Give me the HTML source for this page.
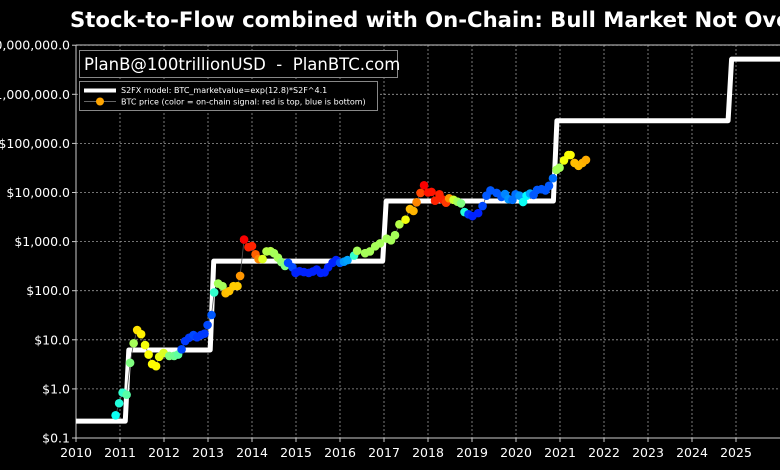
<!DOCTYPE html>
<html><head><meta charset="utf-8"><style>
html,body{margin:0;padding:0;background:#000;width:780px;height:470px;overflow:hidden}
svg{display:block;font-family:"DejaVu Sans","Liberation Sans",sans-serif}
</style></head><body>
<svg id="chart" width="780" height="470" viewBox="0 0 780 470">
<rect x="0" y="0" width="780" height="470" fill="#000"/>
<text x="70" y="27" fill="#fff" font-size="21.2" font-weight="bold">Stock-to-Flow combined with On-Chain: Bull Market Not Over</text>
<defs><clipPath id="plotclip"><rect x="76" y="45" width="704" height="393"/></clipPath></defs>
<g id="grid"></g>
<g id="axes"></g>
<g clip-path="url(#plotclip)">
<g id="model"></g>
<g id="dots"></g>
</g>
<g>
<rect x="79.5" y="50.5" width="318" height="27" fill="#000" stroke="#888" stroke-width="1"/>
<text x="84" y="70" fill="#fff" font-size="16.5" style="white-space:pre">PlanB@100trillionUSD&#160;&#160;-&#160;&#160;PlanBTC.com</text>
<rect x="79.5" y="81.5" width="298" height="29" fill="#000" stroke="#888" stroke-width="1"/>
<line x1="84" y1="90.5" x2="116" y2="90.5" stroke="#fff" stroke-width="4"/>
<text x="121" y="93" fill="#fff" font-size="8">S2FX model: BTC_marketvalue=exp(12.8)*S2F^4.1</text>
<line x1="84" y1="101.5" x2="116" y2="101.5" stroke="#666" stroke-width="1"/>
<circle cx="100" cy="101.5" r="4" fill="#ffa500"/>
<text x="121" y="104.5" fill="#fff" font-size="8">BTC price (color = on-chain signal: red is top, blue is bottom)</text>
</g>
</svg>
<script>
const yearTicks=[2010,2011,2012,2013,2014,2015,2016,2017,2018,2019,2020,2021,2022,2023,2024,2025];
const priceTicks=[0.1,1,10,100,1000,10000,100000,1000000,10000000];
const priceTickLabels=["$0.1","$1.0","$10.0","$100.0","$1,000.0","$10,000.0","$100,000.0","$1,000,000.0","$10,000,000.0"];
const modelStarts=[2010,2011.2,2013.13,2017.05,2020.93,2024.9];
const modelLevels=[0.22,6.2,400,6700,290000,5200000];
const priceYears=[2010.90,2010.98,2011.06,2011.15,2011.23,2011.31,2011.39,2011.48,2011.57,2011.65,2011.73,2011.82,2011.89,2011.99,2012.12,2012.23,2012.32,2012.40,2012.48,2012.57,2012.67,2012.75,2012.84,2012.92,2012.99,2013.08,2013.14,2013.23,2013.33,2013.40,2013.48,2013.58,2013.67,2013.73,2013.82,2013.92,2014.0,2014.08,2014.15,2014.24,2014.33,2014.42,2014.5,2014.59,2014.67,2014.75,2014.82,2014.92,2014.99,2015.08,2015.18,2015.29,2015.38,2015.47,2015.56,2015.65,2015.73,2015.83,2015.91,2016.0,2016.09,2016.17,2016.32,2016.39,2016.57,2016.68,2016.80,2016.91,2017.06,2017.16,2017.25,2017.35,2017.49,2017.59,2017.67,2017.74,2017.83,2017.91,2018.0,2018.08,2018.16,2018.26,2018.32,2018.41,2018.48,2018.58,2018.67,2018.75,2018.83,2018.92,2019.01,2019.14,2019.24,2019.33,2019.42,2019.56,2019.67,2019.75,2019.83,2019.92,2019.99,2020.08,2020.16,2020.24,2020.32,2020.40,2020.48,2020.58,2020.67,2020.75,2020.84,2020.92,2020.99,2021.09,2021.19,2021.24,2021.33,2021.42,2021.51,2021.59];
const priceValues=[0.29,0.51,0.84,0.76,3.4,8.5,15.8,13,7.8,5,3.2,2.9,4.5,5.4,4.7,4.7,5.0,6.4,9.4,11,12.5,11.2,12.5,13.3,20,32,92,140,124,89,98,124,124,200,1100,770,810,550,440,440,630,640,580,470,380,320,370,300,230,250,240,230,245,270,230,235,300,370,420,370,390,420,520,650,580,630,800,920,1150,1060,1350,2250,2800,4600,4200,6300,9800,14000,10000,10300,6800,9200,7300,6200,7600,7100,6500,6000,4000,3600,3300,3800,5300,8600,11000,9800,8100,9300,7300,7100,9200,8600,6400,8600,9500,8900,11300,11700,11000,13700,19500,29000,32000,45000,58000,58000,40000,35000,40000,46000];
const signalValues=[0.35,0.38,0.4,0.45,0.5,0.55,0.7,0.68,0.65,0.66,0.67,0.67,0.64,0.62,0.5,0.48,0.46,0.1,0.08,0.08,0.1,0.08,0.08,0.08,0.1,0.12,0.4,0.55,0.55,0.75,0.74,0.73,0.73,0.8,1.0,0.95,0.95,0.87,0.82,0.62,0.57,0.57,0.55,0.55,0.52,0.5,0.1,0.1,0.05,0.05,0.05,0.05,0.05,0.05,0.05,0.05,0.05,0.05,0.05,0.12,0.2,0.22,0.4,0.55,0.55,0.55,0.55,0.55,0.55,0.55,0.55,0.57,0.65,0.75,0.76,0.82,0.9,1.0,0.97,0.97,0.95,0.95,0.95,0.92,0.8,0.6,0.55,0.5,0.38,0.08,0.05,0.05,0.1,0.12,0.12,0.12,0.12,0.18,0.2,0.15,0.15,0.2,0.35,0.33,0.22,0.12,0.12,0.12,0.12,0.12,0.15,0.55,0.55,0.65,0.66,0.66,0.75,0.75,0.76,0.77];

const NS="http://www.w3.org/2000/svg";
const X0=76,Y0=438,PX_YEAR=44,PX_DEC=49.1;
function xScale(yr){return X0+(yr-2010)*PX_YEAR;}
function yScale(v){return Y0-(Math.log10(v)+1)*PX_DEC;}
function jet(s){const t=0.12+s*0.76;const c=v=>Math.round(255*Math.max(0,Math.min(1,v)));return `rgb(${c(1.5-Math.abs(4*t-3))},${c(1.5-Math.abs(4*t-2))},${c(1.5-Math.abs(4*t-1))})`;}
function mk(tag,attrs,parent){const e=document.createElementNS(NS,tag);for(const k in attrs)e.setAttribute(k,attrs[k]);parent.appendChild(e);return e;}

const grid=document.getElementById('grid'),axes=document.getElementById('axes');
yearTicks.forEach(yr=>{const x=xScale(yr);
  const gl=mk('line',{x1:x,y1:45,x2:x,y2:438,stroke:'#999','stroke-width':0.8,'stroke-dasharray':'2,2'},grid);
  
  
  mk('line',{x1:x,y1:438,x2:x,y2:442,stroke:'#ccc','stroke-width':1},axes);
  const t=mk('text',{x:x,y:457,fill:'#fff','font-size':12.5,'text-anchor':'middle'},axes);
  
  
  t.textContent=yr;});
priceTicks.forEach((v,i)=>{const y=yScale(v);
  const gl=mk('line',{x1:76,y1:y,x2:780,y2:y,stroke:'#999','stroke-width':0.8,'stroke-dasharray':'2,2'},grid);
  
  
  mk('line',{x1:72,y1:y,x2:76,y2:y,stroke:'#ccc','stroke-width':1},axes);
  const t=mk('text',{x:70,y:y+4.5,fill:'#fff','font-size':12.5,'text-anchor':'end'},axes);
  
  
  t.textContent=priceTickLabels[i];});
mk('line',{x1:76,y1:45,x2:76,y2:438,stroke:'#ccc','stroke-width':1},axes);
mk('line',{x1:76,y1:45,x2:780,y2:45,stroke:'#ccc','stroke-width':1},axes);
mk('line',{x1:76,y1:438,x2:780,y2:438,stroke:'#ccc','stroke-width':1},axes);

let pts=[];
modelStarts.forEach((s,i)=>{const end=i<modelStarts.length-1?modelStarts[i+1]-0.08:2026;
  pts.push([xScale(s),yScale(modelLevels[i])]);pts.push([xScale(end),yScale(modelLevels[i])]);});
const model=document.getElementById('model');
const mp=mk('polyline',{points:pts.map(p=>p.join(',')).join(' '),fill:'none',stroke:'#fff','stroke-width':5,'stroke-linejoin':'round'},model);



const dots=document.getElementById('dots');
const pl=mk('polyline',{points:priceYears.map((y,i)=>xScale(y)+','+yScale(priceValues[i])).join(' '),fill:'none',stroke:'#555','stroke-width':0.8},dots);


priceYears.forEach((yr,i)=>{
  const c=mk('circle',{cx:xScale(yr),cy:yScale(priceValues[i]),r:4.3,fill:jet(signalValues[i])},dots);
  
  });
</script>
</body></html>
